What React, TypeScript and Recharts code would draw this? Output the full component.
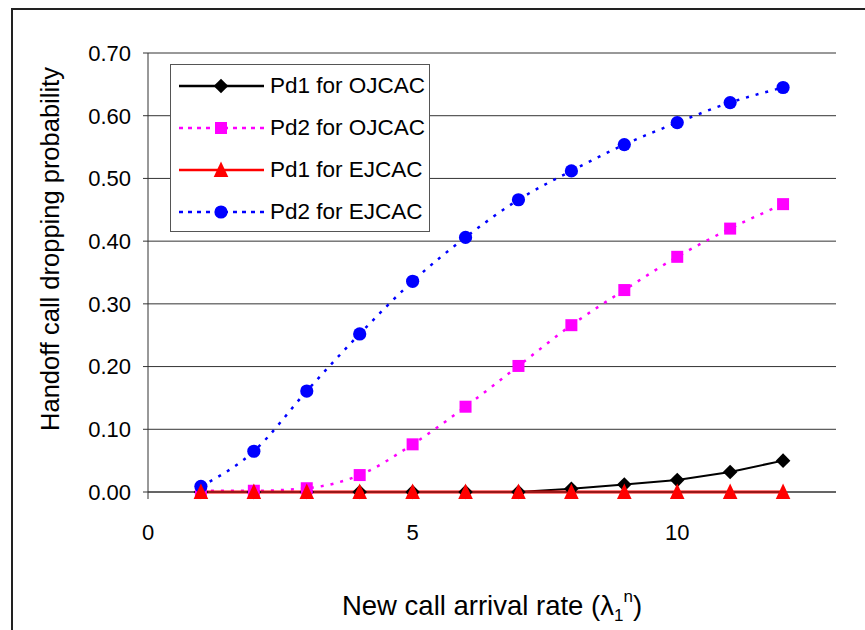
import { LineChart, Line, XAxis, YAxis, CartesianGrid, Label } from 'recharts';

const rates = [1, 2, 3, 4, 5, 6, 7, 8, 9, 10, 11, 12];
const pd1Ojcac = [0, 0, 0, 0, 0, 0, 0, 0.005, 0.012, 0.019, 0.032, 0.05];
const pd2Ojcac = [0.002, 0.002, 0.006, 0.027, 0.076, 0.136, 0.201, 0.266, 0.322, 0.375, 0.42, 0.459];
const pd1Ejcac = [0, 0, 0, 0, 0, 0, 0, 0, 0, 0, 0, 0];
const pd2Ejcac = [0.009, 0.065, 0.161, 0.252, 0.336, 0.406, 0.466, 0.512, 0.554, 0.589, 0.621, 0.645];
const yTicks = [0, 0.1, 0.2, 0.3, 0.4, 0.5, 0.6, 0.7];
const xTicks = [0, 5, 10];

const data = rates.map((r, i) => ({
  rate: r,
  pd1O: pd1Ojcac[i],
  pd2O: pd2Ojcac[i],
  pd1E: pd1Ejcac[i],
  pd2E: pd2Ejcac[i],
}));

const FONT = '"Liberation Sans", Arial, sans-serif';

const Diamond = ({ cx, cy }: any) => (
  <path d={`M${cx},${cy - 7.3} L${cx + 7.3},${cy} L${cx},${cy + 7.3} L${cx - 7.3},${cy} Z`} fill="#000" />
);
const Square = ({ cx, cy }: any) => <rect x={cx - 6} y={cy - 6} width={12} height={12} fill="#ff00ff" />;
const Triangle = ({ cx, cy }: any) => (
  <path d={`M${cx},${cy - 8.5} L${cx + 7.3},${cy + 7} L${cx - 7.3},${cy + 7} Z`} fill="#ff0000" />
);
const Circle = ({ cx, cy }: any) => <circle cx={cx} cy={cy} r={6.6} fill="#0000ff" />;

const legendRows = [
  { name: 'Pd1 for OJCAC', color: '#000', dash: undefined, Marker: Diamond },
  { name: 'Pd2 for OJCAC', color: '#ff00ff', dash: '4 5', Marker: Square },
  { name: 'Pd1 for EJCAC', color: '#ff0000', dash: undefined, Marker: Triangle },
  { name: 'Pd2 for EJCAC', color: '#0000ff', dash: '4 5', Marker: Circle },
];

// legend drawn as an overlay box, like the spreadsheet original
function LegendBox() {
  return (
    <div
      style={{
        position: 'absolute',
        left: 170,
        top: 64,
        width: 258,
        height: 166,
        border: '1.5px solid #555',
        background: '#fff',
        fontFamily: FONT,
        fontSize: 22.5,
      }}
    >
      {legendRows.map(({ name, color, dash, Marker }, i) => (
        <div key={name} style={{ position: 'absolute', left: 0, top: i * 42, height: 42, display: 'flex', alignItems: 'center' }}>
          <svg width={96} height={42} style={{ display: 'block' }}>
            <line x1={8} x2={93} y1={21} y2={21} stroke={color} strokeWidth={2.5} strokeDasharray={dash} />
            <Marker cx={50} cy={21} />
          </svg>
          <span style={{ marginLeft: 3, whiteSpace: 'nowrap' }}>{name}</span>
        </div>
      ))}
    </div>
  );
}

export default function App() {
  return (
    <div style={{ position: 'fixed', left: 0, top: 0, width: 865, height: 630, background: '#fff', overflow: 'hidden' }}>
      <div style={{ position: 'absolute', left: 11, top: 8, width: 860, height: 2, background: '#222' }} />
      <div style={{ position: 'absolute', left: 11, top: 8, width: 2, height: 630, background: '#222' }} />
      <LineChart
        width={865}
        height={630}
        data={data}
        margin={{ top: 53, right: 29, bottom: 0, left: 0 }}
        style={{ position: 'absolute', left: 0, top: 0, fontFamily: FONT }}
      >
        <CartesianGrid vertical={false} stroke="#333" strokeWidth={1} />
        <XAxis
          dataKey="rate"
          type="number"
          domain={[0, 13]}
          ticks={xTicks}
          height={138}
          tickSize={7}
          tickMargin={25}
          stroke="#333"
          tick={{ fill: '#000', fontSize: 22 }}
        >
          <Label
            content={() => (
              <text x={492} y={615} textAnchor="middle" fontSize={27.5} fill="#000" fontFamily={FONT}>
                New call arrival rate (λ
                <tspan fontSize={17} dy={6}>1</tspan>
                <tspan fontSize={17} dy={-19}>n</tspan>
                <tspan dy={13}>)</tspan>
              </text>
            )}
          />
        </XAxis>
        <YAxis
          type="number"
          domain={[0, 0.7]}
          ticks={yTicks}
          width={148}
          tickSize={5}
          tickMargin={12}
          stroke="#333"
          tick={{ fill: '#000', fontSize: 22 }}
          tickFormatter={(v: number) => v.toFixed(2)}
        >
          <Label
            content={() => (
              <text
                x={50}
                y={249}
                transform="rotate(-90 50 249)"
                textAnchor="middle"
                dominantBaseline="central"
                fontSize={25.5}
                fill="#000"
                fontFamily={FONT}
              >
                Handoff call dropping probability
              </text>
            )}
          />
        </YAxis>
        <Line type="linear" dataKey="pd1O" stroke="#000" strokeWidth={2} dot={<Diamond />} isAnimationActive={false} />
        <Line type="monotone" dataKey="pd2O" stroke="#ff00ff" strokeWidth={2.5} strokeDasharray="3 7" dot={<Square />} isAnimationActive={false} />
        <Line type="monotone" dataKey="pd2E" stroke="#0000ff" strokeWidth={2.5} strokeDasharray="3 7" dot={<Circle />} isAnimationActive={false} />
        <Line type="linear" dataKey="pd1E" stroke="#ff0000" strokeWidth={3} dot={<Triangle />} isAnimationActive={false} />
      </LineChart>
      <LegendBox />
    </div>
  );
}
